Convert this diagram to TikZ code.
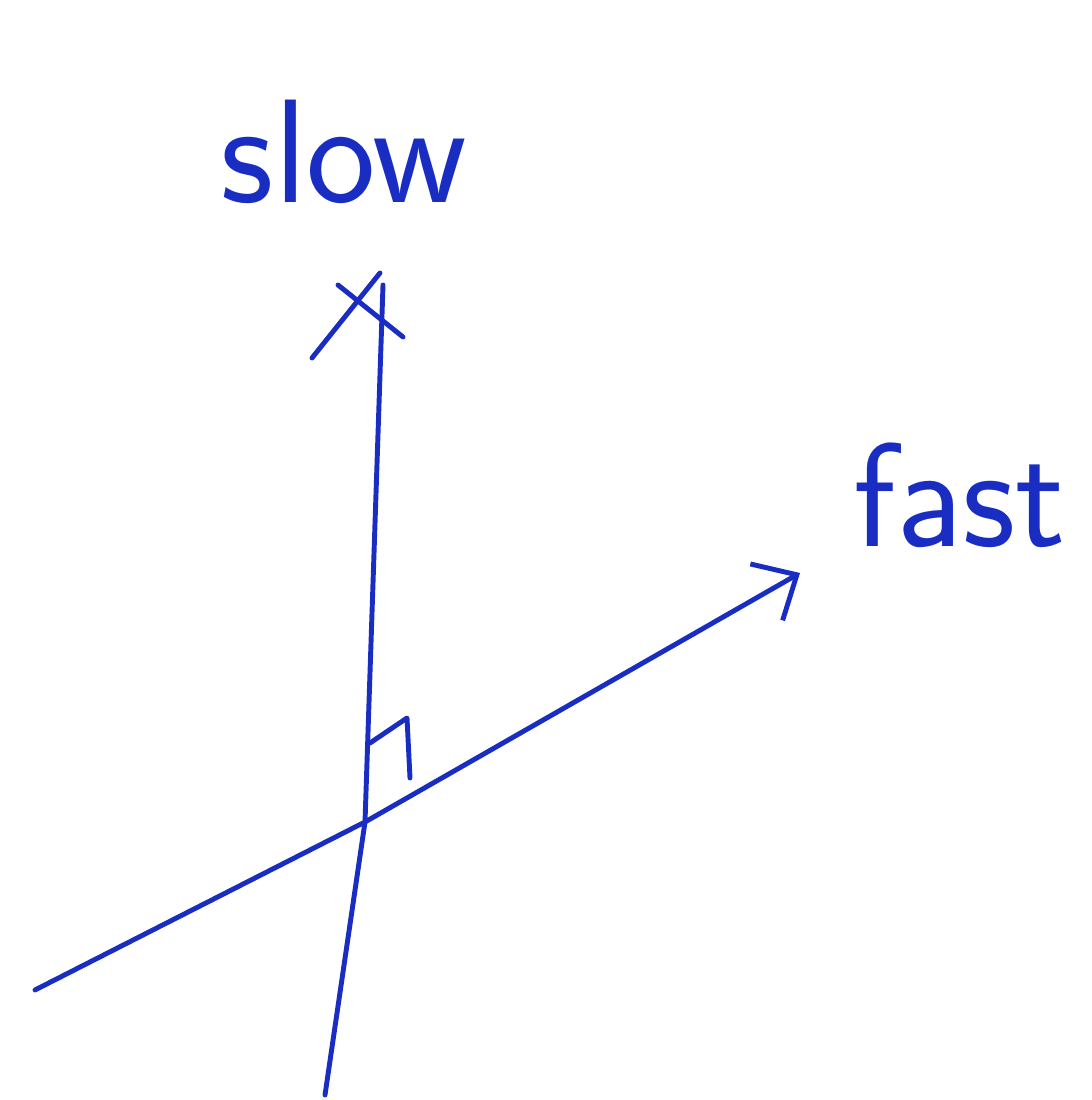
\documentclass[tikz,border=0pt]{standalone}
\usepackage{tikz}
\usetikzlibrary{arrows.meta,positioning}
\definecolor{penblue}{RGB}{25,45,195}

\begin{document}
\begin{tikzpicture}[x=1cm,y=1cm, pen/.style={penblue,line width=1.4pt,line cap=round,line join=round}, arr/.style={pen,-{Straight Barb[length=3.5mm,width=6.5mm]}}, lbl/.style={penblue,font=\sffamily\fontsize{42}{46}\selectfont}]
\useasboundingbox (0,0) rectangle (10.92,11);
% axes
\coordinate (vbot) at (3.25,0.05);
\coordinate (cross) at (3.65,2.78);
\coordinate (vtop) at (3.83,8.15);
\coordinate (fbot) at (0.35,1.10);
\coordinate (ftip) at (8.00,5.27);
\draw[pen] (vbot) -- (cross) -- (vtop);
\draw[arr] (fbot) -- (cross) -- (ftip);
% cross at the top of the slow axis
\coordinate (xa) at (3.12,7.42); \coordinate (xb) at (3.80,8.27);
\coordinate (xc) at (3.38,8.15); \coordinate (xd) at (4.03,7.63);
\draw[pen] (xa) -- (xb); \draw[pen] (xc) -- (xd);
% right angle mark
\coordinate (ra) at (3.70,3.57); \coordinate (rb) at (4.07,3.82); \coordinate (rc) at (4.10,3.22);
\draw[pen] (ra) -- (rb) -- (rc);
\node[lbl] (slow) at (3.44,9.48) {slow};
\node[lbl] (fast) at (9.60,6.05) {fast};
\end{tikzpicture}
\end{document}
